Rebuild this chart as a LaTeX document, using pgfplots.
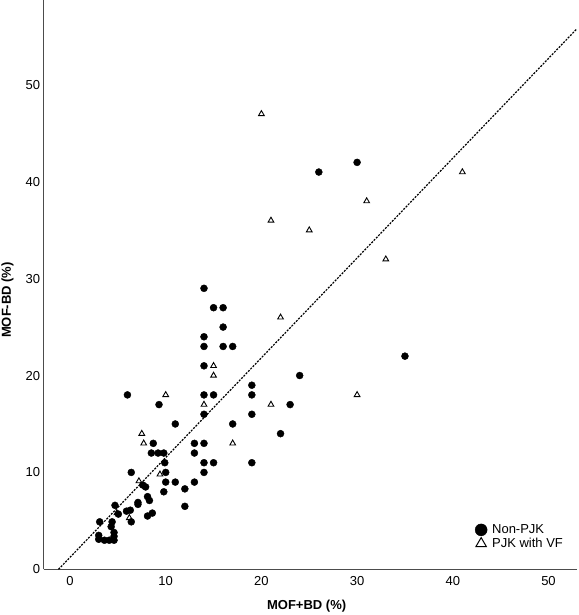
\documentclass[border=0pt]{standalone}
\usepackage{fontspec}
\setmainfont{Liberation Sans}
\usepackage{pgfplots}
\pgfplotsset{compat=1.18}

% Non-PJK patients
\pgfplotstableread{
x y
3.0 3.1
3.0 3.5
3.6 3.0
4.1 3.0
4.6 3.0
4.6 3.4
4.6 3.8
3.1 4.9
4.3 4.4
4.4 4.9
4.7 6.6
5.05 5.7
5.9 6.0
6.3 6.1
6.4 4.9
7.1 6.9
7.1 6.7
8.1 7.5
8.3 7.1
8.1 5.5
8.6 5.8
7.6 8.7
7.9 8.5
9.8 8.0
10 9
11 9
12 8.3
12 6.5
13 9
6.4 10
10 10
14 10
9.9 11
14 11
15 11
19 11
8.5 12
9.2 12
9.8 12
13 12
8.7 13
13 13
14 13
11 15
17 15
22 14
14 16
19 16
9.3 17
23 17
6 18
14 18
15 18
19 18
19 19
24 20
14 21
14 23
16 23
17 23
14 24
16 25
15 27
16 27
14 29
35 22
26 41
30 42
}\nonpjk

% PJK with vertebral fracture
\pgfplotstableread{
x y
4.9 5.8
6.2 5.3
7.2 9.1
9.4 9.8
7.5 14
7.7 13
10 18
14 17
17 13
15 20
15 21
21 17
30 18
22 26
21 36
25 35
20 47
31 38
33 32
41 41
}\pjkvf

\begin{document}
\begin{tikzpicture}
\begin{axis}[
  name=ax,
  scale only axis,
  width=533.3pt, height=569.3pt,
  xmin=-2.75, xmax=52.98, ymin=0, ymax=58.76,
  axis x line*=bottom, axis y line*=left,
  axis line style={-, draw=black!70, line width=1.3pt},
  every outer x axis line/.append style={-},
  every outer y axis line/.append style={-},
  xtick={0,10,...,50}, ytick={0,10,...,50},
  major tick length=0pt,
  /pgf/number format/assume math mode=true,
  tick label style={font=\fontsize{13}{15}\selectfont},
  xticklabel style={yshift=-3.4pt},
  xlabel={MOF+BD (\%)}, ylabel={MOF-BD (\%)},
  label style={font=\fontsize{13}{15}\selectfont\bfseries},
  xlabel style={at={(axis description cs:0.493,-0.064)}, anchor=center},
  ylabel style={at={(axis description cs:-0.068,0.473)}, anchor=center},
  legend style={draw=none, fill=none, font=\fontsize{13}{15}\selectfont,
    at={(axis description cs:0.803,0.057)}, anchor=west, row sep=-1pt,
    column sep=3pt},
  legend cell align=left,
  clip=false,
]
% reference line
\addplot[black, line width=1.2pt, dash pattern=on 2pt off 1.3pt, forget plot]
  coordinates {(-1.2,0) (52.98,55.8)};

\addplot[only marks, mark=*, mark size=3.5pt, black, forget plot] table {\nonpjk};
\addplot[only marks, mark=triangle, mark size=3.3pt, black, line width=0.9pt,
  mark options={fill=white}, forget plot] table {\pjkvf};

\addlegendimage{only marks, mark=*, mark size=6pt, black}
\addlegendentry{Non-PJK}
\addlegendimage{only marks, mark=triangle, mark size=6pt, black, line width=1pt}
\addlegendentry{PJK with VF}
\end{axis}
\pgfresetboundingbox
\path ([shift={(-43.7pt,-45.7pt)}]ax.south west) rectangle ([shift={(1pt,0pt)}]ax.north east);
\end{tikzpicture}
\end{document}
